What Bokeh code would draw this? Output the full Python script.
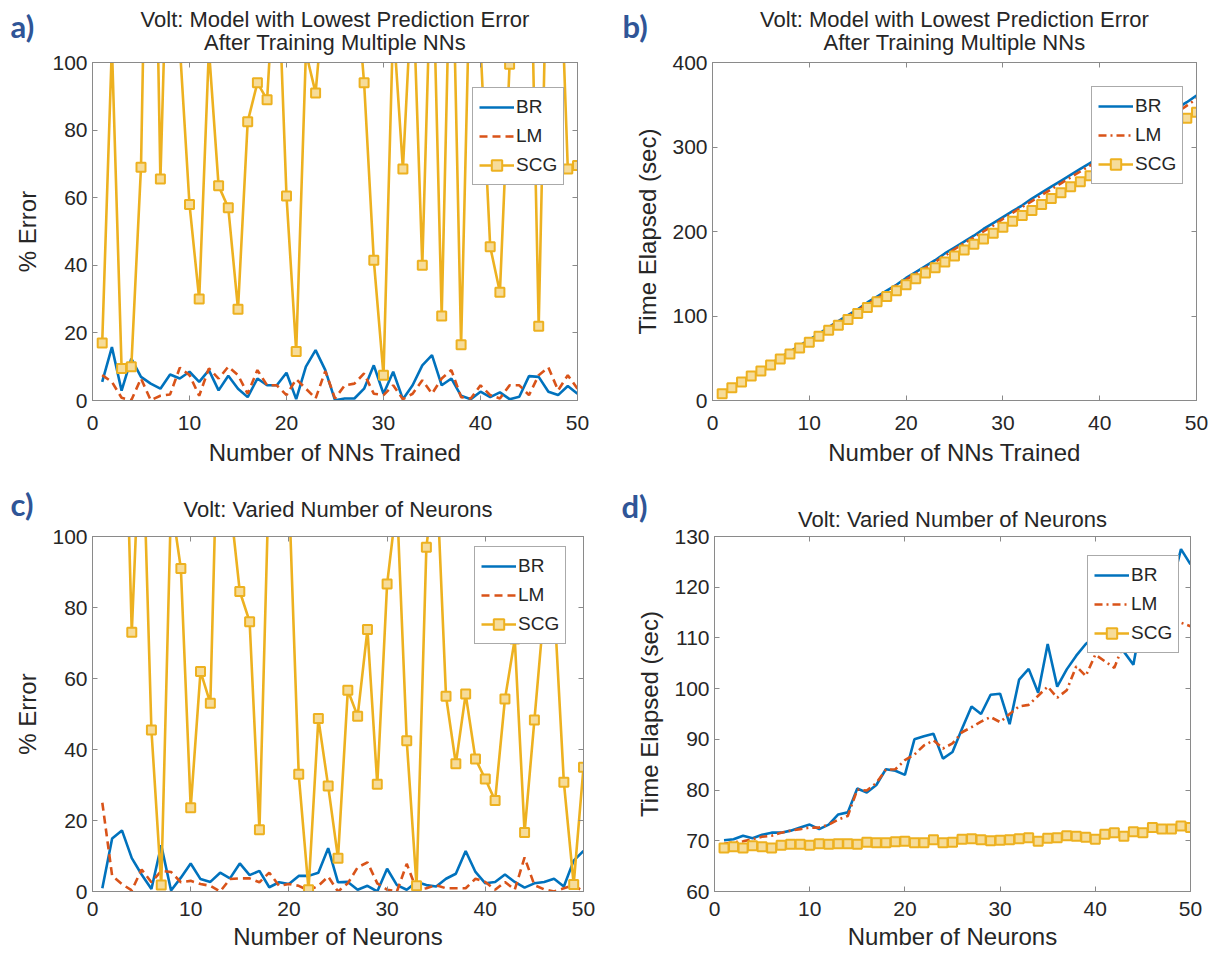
from bokeh.plotting import figure
from bokeh.models import (Range1d, LinearAxis, FixedTicker, Legend, LegendItem, Title)
from bokeh.layouts import column, row
from bokeh.embed import file_html
from bokeh.resources import INLINE

# ---------------- data ----------------
x = list(range(1, 51))

a_br = [5.5, 15.8, 2.9, 12.4, 7.0, 5.0, 3.5, 7.7, 6.5, 8.5,
        5.5, 9.0, 3.0, 7.3, 3.5, 1.0, 6.5, 4.5, 4.5, 8.2,
        0.4, 10.0, 14.9, 9.0, 0.1, 0.6, 0.6, 3.5, 10.4, 2.0,
        8.5, 0.4, 4.5, 10.4, 13.4, 4.5, 6.5, 1.4, 0.4, 2.6,
        1.0, 2.4, 0.4, 1.1, 7.2, 7.0, 2.6, 1.6, 4.3, 2.0]
a_lm = [7.5, 5.5, 0.8, 0.1, 6.5, 0.1, 1.4, 1.8, 9.7, 7.5,
        1.4, 9.5, 6.5, 10.0, 7.5, 2.0, 9.0, 4.5, 4.5, 1.6,
        6.3, 3.5, 0.6, 8.7, 0.6, 4.5, 5.0, 8.0, 2.0, 1.6,
        4.5, 0.4, 2.0, 6.0, 2.0, 6.5, 9.0, 1.0, 0.6, 4.5,
        1.6, 0.6, 4.5, 4.5, 1.6, 7.5, 9.8, 3.0, 7.5, 3.5]
a_scg = [17, 105, 9.5, 10, 69, 225, 65.5, 166, 105, 58,
         30, 104, 63.5, 57, 27, 82.5, 94, 89, 138, 60.5,
         14.5, 103, 91, 124, 150, 140, 129, 94, 41.5, 7.5,
         112, 68.5, 125, 40, 140, 25, 150, 16.5, 137, 105,
         45.5, 32, 99.5, 150, 160, 22, 155, 150, 68.5, 69.5]

b_br = [8, 15, 22, 29, 36, 43, 51, 58, 65, 72,
        79, 87, 94, 101, 108, 116, 123, 130, 137, 145,
        152, 159, 166, 174, 181, 188, 195, 203, 210, 217,
        224, 231, 239, 246, 253, 260, 267, 274, 281, 288,
        295, 303, 310, 317, 324, 331, 338, 346, 353, 361]
b_lm = [8, 15, 22, 29, 36, 43, 50, 57, 64, 71,
        78, 86, 93, 100, 107, 114, 121, 128, 136, 143,
        150, 157, 164, 171, 179, 186, 193, 200, 207, 215,
        222, 229, 236, 243, 250, 257, 264, 271, 278, 285,
        292, 299, 306, 313, 320, 327, 334, 341, 349, 357]
b_scg = [8, 15, 22, 29, 35, 42, 49, 55, 62, 69,
         76, 83, 89, 96, 103, 110, 117, 123, 130, 137,
         144, 151, 157, 164, 171, 178, 185, 191, 198, 205,
         212, 219, 225, 232, 239, 246, 253, 259, 266, 273,
         280, 287, 293, 300, 307, 314, 321, 327, 334, 341]

c_br = [0.9, 14.9, 17.2, 9.4, 4.8, 0.7, 13.0, 0.3, 3.9, 7.9,
        3.5, 2.7, 5.3, 3.7, 7.9, 4.6, 5.8, 1.2, 2.6, 2.1,
        4.4, 4.4, 5.3, 12.2, 2.6, 2.7, 0.5, 1.6, 0.0, 6.4,
        1.8, 0.5, 2.7, 1.8, 1.4, 3.6, 5.0, 11.4, 5.5, 2.3,
        2.7, 4.8, 2.7, 1.1, 2.3, 2.7, 3.6, 1.4, 8.7, 11.4]
c_lm = [25.0, 4.4, 2.1, 0.3, 6.2, 2.6, 5.8, 5.5, 2.6, 3.0,
        2.1, 1.6, 0.0, 3.5, 3.7, 3.7, 2.6, 5.3, 1.6, 2.1,
        1.6, 0.3, 1.6, 4.2, 0.0, 2.3, 6.8, 8.2, 2.3, 0.5,
        0.0, 7.8, 0.5, 0.9, 1.8, 0.9, 0.9, 0.9, 3.6, 2.7,
        0.5, 2.7, 0.5, 9.6, 1.8, 0.6, 0.0, 0.9, 1.8, 0.0]
c_scg = [150, 160, 173, 73, 140, 45.5, 1.8, 110, 91, 23.6,
         62, 53, 160, 110, 84.5, 76, 17.4, 120, 150, 113,
         33, 0.5, 48.7, 29.7, 9.4, 56.7, 49.4, 73.8, 30.2, 86.6,
         110, 42.5, 1.6, 97, 120, 55, 36, 55.6, 37.3, 31.7,
         25.6, 54.2, 71.1, 16.6, 48.3, 80, 82, 30.8, 2.0, 35]

d_br = [70.1, 70.3, 71.0, 70.5, 71.2, 71.6, 71.6, 72.0, 72.6, 73.2,
        72.3, 73.2, 75.2, 75.6, 80.3, 79.5, 81.0, 84.1, 83.8, 83.0,
        90.0, 90.6, 91.1, 86.2, 87.5, 92.1, 96.5, 95.0, 98.8, 99.0,
        93.0, 101.8, 103.9, 99.2, 108.8, 100.4, 103.8, 106.5, 108.8, 110.3,
        113.0, 115.5, 107.3, 104.7, 115.0, 118.0, 117.0, 120.0, 127.5, 124.5]
d_lm = [69.4, 69.7, 69.9, 70.3, 70.8, 71.0, 71.6, 72.0, 72.3, 72.6,
        72.6, 73.2, 74.2, 74.9, 80.1, 79.9, 81.4, 84.0, 84.1, 85.9,
        87.0, 88.8, 89.8, 88.2, 89.2, 91.4, 92.4, 93.5, 94.4, 93.4,
        95.0, 96.5, 96.8, 98.6, 100.4, 98.2, 99.7, 104.4, 102.5, 106.7,
        105.4, 104.1, 109.0, 109.3, 112.9, 109.6, 113.5, 113.4, 113.0, 112.3]
d_scg = [68.6, 68.8, 68.6, 69.0, 68.8, 68.6, 69.1, 69.3, 69.3, 69.1,
         69.4, 69.3, 69.4, 69.4, 69.3, 69.7, 69.6, 69.6, 69.8, 69.9,
         69.6, 69.6, 70.2, 69.6, 69.7, 70.3, 70.4, 70.2, 70.0, 70.1,
         70.2, 70.4, 70.6, 69.9, 70.5, 70.6, 71.0, 70.9, 70.7, 70.3,
         71.3, 71.6, 70.9, 71.8, 71.6, 72.6, 72.3, 72.3, 72.9, 72.6]

x_ticks = [0, 10, 20, 30, 40, 50]
err_ticks = [0, 20, 40, 60, 80, 100]
b_ticks = [0, 100, 200, 300, 400]
d_ticks = [60, 70, 80, 90, 100, 110, 120, 130]

title_ab = ["Volt: Model with Lowest Prediction Error", "After Training Multiple NNs"]
title_cd = ["Volt: Varied Number of Neurons"]
series_names = ["BR", "LM", "SCG"]

# ---------------- style ----------------
C_BR = "#0072BD"
C_LM = "#D95319"
C_SCG = "#EDB120"
AX = "#8a8a8a"
TXT = "#262626"
FONT = "Liberation Sans"
LETTER = "#2F5597"


def add_title(p, text, standoff, font=FONT, size="22px", style="normal",
              color=TXT, align="center", offset=0):
    t = Title(text=text, align=align, vertical_align="middle", offset=offset,
              text_font=font, text_font_size=size, text_font_style=style,
              text_color=color)
    try:
        t.standoff = standoff
    except Exception:
        t.standoff = 0
    p.add_layout(t, "above")


def spacer(p, px):
    # blank white row that only reserves vertical room above the frame
    add_title(p, " ", px - 2 - 11.4, size="10px", color="white")


def letter(p, text, offset):
    add_title(p, text, -40, font="Lato", size="31px", style="bold",
              color=LETTER, align="left", offset=offset)


def make_panel(w, h, bl, br_, bt, bb, yr, yticks, xlabel, ylabel,
               xs, ys_br, ys_lm, ys_scg, lm_dash, legend_loc,
               xtick_standoff, xlab_standoff):
    p = figure(width=w, height=h, x_range=Range1d(0, 50), y_range=Range1d(*yr),
               output_backend="svg", toolbar_location=None, title_location=None,
               min_border_left=bl, min_border_right=br_,
               min_border_top=bt, min_border_bottom=bb)
    p.xgrid.visible = False
    p.ygrid.visible = False
    p.outline_line_color = AX
    p.background_fill_color = "white"
    p.border_fill_color = "white"

    for ax, ticks, lab in ((p.xaxis[0], x_ticks, xlabel), (p.yaxis[0], yticks, ylabel)):
        ax.ticker = FixedTicker(ticks=ticks)
        ax.axis_label = lab
        ax.axis_label_text_font = FONT
        ax.axis_label_text_font_style = "normal"
        ax.axis_label_text_font_size = "24px"
        ax.axis_label_text_color = TXT
        ax.major_label_text_font = FONT
        ax.major_label_text_font_size = "21px"
        ax.major_label_text_color = TXT
        ax.axis_line_color = AX
        ax.major_tick_line_color = AX
        ax.major_tick_in = 5
        ax.major_tick_out = 0
        ax.minor_tick_line_color = None
    p.xaxis[0].major_label_standoff = xtick_standoff
    p.xaxis[0].axis_label_standoff = xlab_standoff
    p.yaxis[0].major_label_standoff = 5
    p.yaxis[0].axis_label_standoff = 8

    for loc, ticks in (("above", x_ticks), ("right", yticks)):
        ax = LinearAxis(ticker=FixedTicker(ticks=ticks),
                        major_label_text_font_size="0px",
                        major_label_text_alpha=0,
                        major_label_standoff=0,
                        axis_line_color=AX, major_tick_line_color=AX,
                        major_tick_in=5, major_tick_out=0,
                        minor_tick_line_color=None)
        p.add_layout(ax, loc)

    r_br = p.line(xs, ys_br, line_color=C_BR, line_width=2.6)
    r_lm = p.line(xs, ys_lm, line_color=C_LM, line_width=2.6, line_dash=lm_dash)
    r_scg = p.line(xs, ys_scg, line_color=C_SCG, line_width=2.6)
    r_scg_m = p.scatter(xs, ys_scg, marker="square", size=9, line_color=C_SCG,
                        line_width=2, fill_color="#f6dc9a")

    legend = Legend(items=[LegendItem(label=series_names[0], renderers=[r_br]),
                           LegendItem(label=series_names[1], renderers=[r_lm]),
                           LegendItem(label=series_names[2], renderers=[r_scg, r_scg_m])],
                    location=legend_loc, margin=0, padding=6, spacing=3,
                    glyph_width=35, glyph_height=26, label_height=26,
                    label_standoff=2,
                    label_text_font=FONT, label_text_font_size="19px",
                    label_text_color=TXT,
                    border_line_color="#555555", border_line_width=1,
                    background_fill_color="white", background_fill_alpha=1)
    p.add_layout(legend)
    return p


pa = make_panel(612, 477, 92, 35, 62, 77, (0, 100), err_ticks,
                "Number of NNs Trained", "% Error",
                x, a_br, a_lm, a_scg, "8 5", (380, 215), 15, 6)
spacer(pa, 4)
add_title(pa, title_ab[1], 6)
letter(pa, "a)", -82)
add_title(pa, title_ab[0], -15)

pb = make_panel(598, 477, 100, 14, 62, 77, (0, 400), b_ticks,
                "Number of NNs Trained", "Time Elapsed (sec)",
                x, b_br, b_lm, b_scg, "8 4 2 4", (379, 216), 15, 6)
spacer(pb, 4)
add_title(pb, title_ab[1], 6)
letter(pb, "b)", -90)
add_title(pb, title_ab[0], -15)

pc = make_panel(612, 478, 92, 29, 59, 64, (0, 100), err_ticks,
                "Number of Neurons", "% Error",
                x, c_br, c_lm, c_scg, "8 5", (382, 247), 10, 4)
spacer(pc, 21)
add_title(pc, title_cd[0], -15)
letter(pc, "c)", -82)

pd = make_panel(598, 478, 102, 20, 59, 64, (60, 130), d_ticks,
                "Number of Neurons", "Time Elapsed (sec)",
                x, d_br, d_lm, d_scg, "8 4 2 4", (373, 238), 10, 4)
spacer(pd, 3)
add_title(pd, title_cd[0], 1)
letter(pd, "d)", -93)

layout = column(row(pa, pb), row(pc, pd))
open("out.html", "w").write(file_html(layout, INLINE))
